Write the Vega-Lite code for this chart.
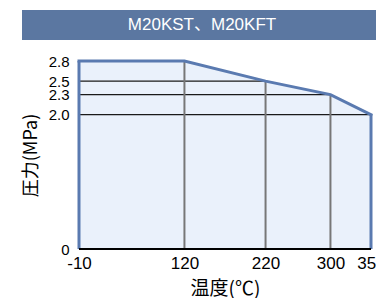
{
  "$schema": "https://vega.github.io/schema/vega-lite/v6.json",
  "padding": {"left": 22, "top": 10, "right": 0, "bottom": 0},
  "background": "white",
  "spacing": 14,
  "config": {
    "view": {"stroke": null},
    "font": "Liberation Sans, Noto Sans CJK JP, sans-serif"
  },
  "vconcat": [
    {
      "width": 354,
      "height": 30,
      "data": {"values": [{"label": "M20KST、M20KFT"}]},
      "layer": [
        {"mark": {"type": "rect", "color": "#5b77a1"}, "encoding": {}},
        {
          "mark": {"type": "text", "color": "#ffffff", "fontSize": 17, "dx": 3, "align": "center", "baseline": "middle"},
          "encoding": {"text": {"field": "label"}}
        }
      ]
    },
    {
      "width": 349,
      "height": 188,
      "data": {
        "values": [
          {"t": -10, "p": 2.8},
          {"t": 120, "p": 2.8},
          {"t": 220, "p": 2.5},
          {"t": 300, "p": 2.3},
          {"t": 350, "p": 2.0}
        ]
      },
      "encoding": {
        "x": {
          "field": "t", "type": "quantitative",
          "scale": {"domain": [-80.27, 350], "nice": false, "zero": false},
          "axis": {
            "values": [-10, 120, 220, 300, 350],
            "labelExpr": "'' + datum.value",
            "ticks": false, "grid": false, "domain": false,
            "labelFontSize": 17, "labelColor": "#000000", "labelPadding": 6,
            "labelFlush": false, "labelOverlap": false, "labelBound": false,
            "title": "温度(℃)", "titleFontSize": 19, "titleFontWeight": "normal",
            "titleFont": "Noto Sans CJK JP", "titleX": 203,
            "titleColor": "#000000", "titlePadding": 8
          }
        },
        "y": {
          "field": "p", "type": "quantitative",
          "scale": {"domain": [0, 2.8], "nice": false, "zero": true},
          "axis": {
            "values": [0, 2, 2.3, 2.5, 2.8],
            "labelExpr": "datum.value == 0 ? '0' : format(datum.value, '.1f')",
            "ticks": false, "grid": false, "domain": false, "offset": -57,
            "labelFontSize": 15, "labelColor": "#000000", "labelPadding": 10,
            "labelOverlap": false, "labelFlush": false,
            "title": "圧力(MPa)", "titleFontSize": 18, "titleFontWeight": "normal",
            "titleFont": "Noto Sans CJK JP",
            "titleColor": "#000000", "titlePadding": 8
          }
        }
      },
      "layer": [
        {"mark": {"type": "area", "color": "#eaf1fb"}},
        {
          "transform": [{"filter": "datum.t >= 220"}],
          "mark": {"type": "rule", "color": "#1a1a1a", "strokeWidth": 1.3},
          "encoding": {
            "x": {"datum": -10, "type": "quantitative"},
            "x2": {"field": "t"},
            "y": {"field": "p", "type": "quantitative"}
          }
        },
        {
          "transform": [{"filter": "datum.t > -10 && datum.t < 350"}],
          "mark": {"type": "rule", "color": "#777777", "strokeWidth": 2},
          "encoding": {
            "x": {"field": "t", "type": "quantitative"},
            "y": {"datum": 0, "type": "quantitative"},
            "y2": {"field": "p"}
          }
        },
        {
          "transform": [{"filter": "datum.t == -10 || datum.t == 350"}],
          "mark": {"type": "rule", "color": "#5a7ab0", "strokeWidth": 3},
          "encoding": {
            "x": {"field": "t", "type": "quantitative"},
            "y": {"datum": 0, "type": "quantitative"},
            "y2": {"field": "p"}
          }
        },
        {"mark": {"type": "line", "color": "#5a7ab0", "strokeWidth": 3, "strokeCap": "square"}},
        {
          "transform": [{"filter": "datum.t == 350"}],
          "mark": {"type": "rule", "color": "#000000", "strokeWidth": 2},
          "encoding": {
            "x": {"datum": -10, "type": "quantitative"},
            "x2": {"field": "t"},
            "y": {"datum": 0, "type": "quantitative"}
          }
        }
      ]
    }
  ]
}
